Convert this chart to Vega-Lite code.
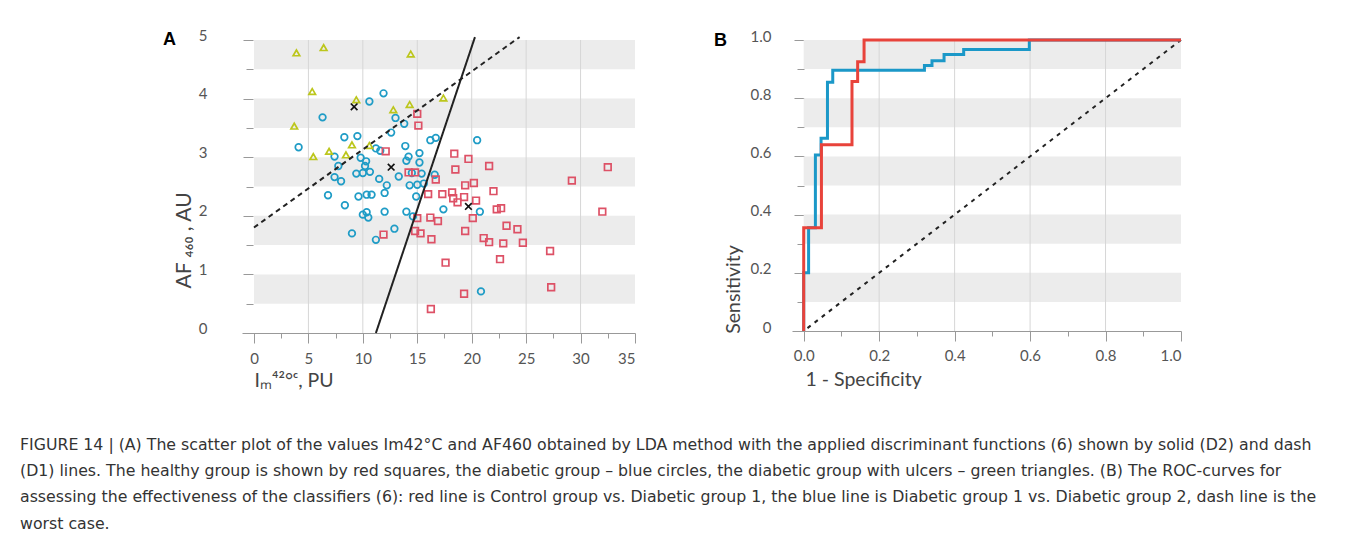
{
  "$schema": "https://vega.github.io/schema/vega-lite/v6.json",
  "padding": {"left": 20, "top": 28, "right": 5, "bottom": 5},
  "background": "white",
  "resolve": {"scale": {"color": "independent", "shape": "independent", "strokeDash": "independent"}},
  "config": {
    "view": {"stroke": null},
    "axis": {
      "labelFont": "Lato", "labelFontSize": 15, "labelColor": "#555",
      "titleFont": "Lato", "titleFontSize": 19.5, "titleColor": "#444", "titleFontWeight": "normal",
      "tickColor": "#999", "domainColor": "#999", "grid": false
    }
  },
  "title": {
    "text": [
      "FIGURE 14 | (A) The scatter plot of the values Im42°C and AF460 obtained by LDA method with the applied discriminant functions (6) shown by solid (D2) and dash",
      "(D1) lines. The healthy group is shown by red squares, the diabetic group – blue circles, the diabetic group with ulcers – green triangles. (B) The ROC-curves for",
      "assessing the effectiveness of the classifiers (6): red line is Control group vs. Diabetic group 1, the blue line is Diabetic group 1 vs. Diabetic group 2, dash line is the",
      "worst case."
    ],
    "orient": "bottom", "anchor": "start", "frame": "bounds",
    "font": "DejaVu Sans", "fontSize": 15.75, "fontWeight": "normal", "color": "#333",
    "lineHeight": 26.4, "offset": 48, "dx": -143
  },
  "datasets": {
    "bandsA": [{"y0": 0.5, "y1": 1}, {"y0": 1.5, "y1": 2}, {"y0": 2.5, "y1": 3}, {"y0": 3.5, "y1": 4}, {"y0": 4.5, "y1": 5}],
    "gridA": [{"v": 5}, {"v": 10}, {"v": 15}, {"v": 20}, {"v": 25}, {"v": 30}],
    "pts": [
      {"x": 4.1, "y": 3.17, "g": "diabetic"}, {"x": 6.3, "y": 3.68, "g": "diabetic"}, {"x": 8.3, "y": 3.34, "g": "diabetic"},
      {"x": 7.4, "y": 3.01, "g": "diabetic"}, {"x": 7.75, "y": 2.85, "g": "diabetic"}, {"x": 7.4, "y": 2.66, "g": "diabetic"},
      {"x": 8.0, "y": 2.59, "g": "diabetic"}, {"x": 11.9, "y": 4.09, "g": "diabetic"}, {"x": 10.6, "y": 3.95, "g": "diabetic"},
      {"x": 13.0, "y": 3.67, "g": "diabetic"}, {"x": 13.8, "y": 3.57, "g": "diabetic"}, {"x": 12.6, "y": 3.42, "g": "diabetic"},
      {"x": 9.5, "y": 3.36, "g": "diabetic"}, {"x": 16.2, "y": 3.29, "g": "diabetic"}, {"x": 16.7, "y": 3.33, "g": "diabetic"},
      {"x": 20.5, "y": 3.29, "g": "diabetic"}, {"x": 13.9, "y": 3.19, "g": "diabetic"}, {"x": 11.2, "y": 3.15, "g": "diabetic"},
      {"x": 11.6, "y": 3.11, "g": "diabetic"}, {"x": 15.2, "y": 3.07, "g": "diabetic"}, {"x": 14.2, "y": 3.01, "g": "diabetic"},
      {"x": 9.8, "y": 2.99, "g": "diabetic"}, {"x": 10.3, "y": 2.93, "g": "diabetic"}, {"x": 14.0, "y": 2.94, "g": "diabetic"},
      {"x": 15.2, "y": 2.91, "g": "diabetic"}, {"x": 10.2, "y": 2.85, "g": "diabetic"}, {"x": 9.4, "y": 2.72, "g": "diabetic"},
      {"x": 10.0, "y": 2.73, "g": "diabetic"}, {"x": 10.65, "y": 2.75, "g": "diabetic"}, {"x": 11.5, "y": 2.63, "g": "diabetic"},
      {"x": 13.3, "y": 2.67, "g": "diabetic"}, {"x": 15.4, "y": 2.72, "g": "diabetic"}, {"x": 16.6, "y": 2.7, "g": "diabetic"},
      {"x": 12.2, "y": 2.52, "g": "diabetic"}, {"x": 14.3, "y": 2.52, "g": "diabetic"}, {"x": 15.0, "y": 2.53, "g": "diabetic"},
      {"x": 15.6, "y": 2.55, "g": "diabetic"}, {"x": 12.0, "y": 2.39, "g": "diabetic"}, {"x": 14.9, "y": 2.33, "g": "diabetic"},
      {"x": 6.8, "y": 2.35, "g": "diabetic"}, {"x": 8.35, "y": 2.18, "g": "diabetic"}, {"x": 9.6, "y": 2.33, "g": "diabetic"},
      {"x": 10.35, "y": 2.36, "g": "diabetic"}, {"x": 10.8, "y": 2.36, "g": "diabetic"}, {"x": 10.35, "y": 2.06, "g": "diabetic"},
      {"x": 10.0, "y": 2.02, "g": "diabetic"}, {"x": 10.5, "y": 1.97, "g": "diabetic"}, {"x": 12.0, "y": 2.07, "g": "diabetic"},
      {"x": 14.0, "y": 2.07, "g": "diabetic"}, {"x": 14.6, "y": 1.99, "g": "diabetic"}, {"x": 12.9, "y": 1.78, "g": "diabetic"},
      {"x": 9.0, "y": 1.7, "g": "diabetic"}, {"x": 11.2, "y": 1.59, "g": "diabetic"}, {"x": 17.4, "y": 2.11, "g": "diabetic"},
      {"x": 20.75, "y": 2.07, "g": "diabetic"}, {"x": 20.85, "y": 0.71, "g": "diabetic"}, {"x": 14.5, "y": 2.73, "g": "diabetic"},
      {"x": 15.0, "y": 3.74, "g": "healthy"}, {"x": 15.1, "y": 3.54, "g": "healthy"}, {"x": 12.1, "y": 3.1, "g": "healthy"},
      {"x": 14.2, "y": 2.74, "g": "healthy"}, {"x": 14.8, "y": 2.74, "g": "healthy"}, {"x": 16.7, "y": 2.62, "g": "healthy"},
      {"x": 18.4, "y": 3.06, "g": "healthy"}, {"x": 19.7, "y": 2.97, "g": "healthy"}, {"x": 18.5, "y": 2.79, "g": "healthy"},
      {"x": 21.6, "y": 2.85, "g": "healthy"}, {"x": 19.4, "y": 2.52, "g": "healthy"}, {"x": 20.2, "y": 2.56, "g": "healthy"},
      {"x": 32.5, "y": 2.83, "g": "healthy"}, {"x": 29.2, "y": 2.6, "g": "healthy"}, {"x": 32.0, "y": 2.07, "g": "healthy"},
      {"x": 16.0, "y": 2.37, "g": "healthy"}, {"x": 17.3, "y": 2.37, "g": "healthy"}, {"x": 18.2, "y": 2.4, "g": "healthy"},
      {"x": 22.0, "y": 2.42, "g": "healthy"}, {"x": 18.3, "y": 2.3, "g": "healthy"}, {"x": 19.3, "y": 2.32, "g": "healthy"},
      {"x": 18.7, "y": 2.23, "g": "healthy"}, {"x": 20.4, "y": 2.26, "g": "healthy"}, {"x": 22.3, "y": 2.11, "g": "healthy"},
      {"x": 22.7, "y": 2.13, "g": "healthy"}, {"x": 20.1, "y": 1.96, "g": "healthy"}, {"x": 16.2, "y": 1.97, "g": "healthy"},
      {"x": 16.9, "y": 1.91, "g": "healthy"}, {"x": 15.0, "y": 1.96, "g": "healthy"}, {"x": 14.8, "y": 1.74, "g": "healthy"},
      {"x": 15.3, "y": 1.7, "g": "healthy"}, {"x": 16.3, "y": 1.6, "g": "healthy"}, {"x": 19.4, "y": 1.74, "g": "healthy"},
      {"x": 21.1, "y": 1.62, "g": "healthy"}, {"x": 21.6, "y": 1.55, "g": "healthy"}, {"x": 22.9, "y": 1.53, "g": "healthy"},
      {"x": 23.2, "y": 1.83, "g": "healthy"}, {"x": 24.2, "y": 1.77, "g": "healthy"}, {"x": 24.7, "y": 1.54, "g": "healthy"},
      {"x": 27.2, "y": 1.4, "g": "healthy"}, {"x": 22.6, "y": 1.26, "g": "healthy"}, {"x": 17.6, "y": 1.2, "g": "healthy"},
      {"x": 27.3, "y": 0.78, "g": "healthy"}, {"x": 19.3, "y": 0.67, "g": "healthy"}, {"x": 16.25, "y": 0.41, "g": "healthy"},
      {"x": 11.9, "y": 1.68, "g": "healthy"},
      {"x": 3.9, "y": 4.78, "g": "ulcer"}, {"x": 6.4, "y": 4.87, "g": "ulcer"}, {"x": 5.35, "y": 4.12, "g": "ulcer"},
      {"x": 3.7, "y": 3.53, "g": "ulcer"}, {"x": 5.45, "y": 3.01, "g": "ulcer"}, {"x": 6.9, "y": 3.1, "g": "ulcer"},
      {"x": 8.45, "y": 3.04, "g": "ulcer"}, {"x": 14.4, "y": 4.76, "g": "ulcer"}, {"x": 9.4, "y": 3.98, "g": "ulcer"},
      {"x": 12.8, "y": 3.81, "g": "ulcer"}, {"x": 14.3, "y": 3.9, "g": "ulcer"}, {"x": 17.4, "y": 4.01, "g": "ulcer"},
      {"x": 9.0, "y": 3.21, "g": "ulcer"}, {"x": 10.6, "y": 3.2, "g": "ulcer"},
      {"x": 9.2, "y": 3.86, "g": "centroid"}, {"x": 12.6, "y": 2.83, "g": "centroid"}, {"x": 19.7, "y": 2.16, "g": "centroid"}
    ],
    "lda": [
      {"line": "D1", "x": 0, "y": 1.8}, {"line": "D1", "x": 24.4, "y": 5.05},
      {"line": "D2", "x": 11.2, "y": 0}, {"line": "D2", "x": 20.3, "y": 5.05}
    ],
    "bandsB": [{"y0": 0.1, "y1": 0.2}, {"y0": 0.3, "y1": 0.4}, {"y0": 0.5, "y1": 0.6}, {"y0": 0.7, "y1": 0.8}, {"y0": 0.9, "y1": 1.0}],
    "gridB": [{"v": 0.2}, {"v": 0.4}, {"v": 0.6}, {"v": 0.8}],
    "diag": [{"fpr": 0.01, "tpr": 0.01}, {"fpr": 1, "tpr": 1}],
    "roc": [
      {"curve": "blue", "i": 0, "fpr": 0, "tpr": 0}, {"curve": "blue", "i": 1, "fpr": 0, "tpr": 0.2},
      {"curve": "blue", "i": 2, "fpr": 0.013, "tpr": 0.2}, {"curve": "blue", "i": 3, "fpr": 0.013, "tpr": 0.355},
      {"curve": "blue", "i": 4, "fpr": 0.031, "tpr": 0.355}, {"curve": "blue", "i": 5, "fpr": 0.031, "tpr": 0.605},
      {"curve": "blue", "i": 6, "fpr": 0.046, "tpr": 0.605}, {"curve": "blue", "i": 7, "fpr": 0.046, "tpr": 0.662},
      {"curve": "blue", "i": 8, "fpr": 0.063, "tpr": 0.662}, {"curve": "blue", "i": 9, "fpr": 0.063, "tpr": 0.855},
      {"curve": "blue", "i": 10, "fpr": 0.077, "tpr": 0.855}, {"curve": "blue", "i": 11, "fpr": 0.077, "tpr": 0.896},
      {"curve": "blue", "i": 12, "fpr": 0.32, "tpr": 0.896}, {"curve": "blue", "i": 13, "fpr": 0.32, "tpr": 0.912},
      {"curve": "blue", "i": 14, "fpr": 0.34, "tpr": 0.912}, {"curve": "blue", "i": 15, "fpr": 0.34, "tpr": 0.929},
      {"curve": "blue", "i": 16, "fpr": 0.372, "tpr": 0.929}, {"curve": "blue", "i": 17, "fpr": 0.372, "tpr": 0.95},
      {"curve": "blue", "i": 18, "fpr": 0.424, "tpr": 0.95}, {"curve": "blue", "i": 19, "fpr": 0.424, "tpr": 0.967},
      {"curve": "blue", "i": 20, "fpr": 0.598, "tpr": 0.967}, {"curve": "blue", "i": 21, "fpr": 0.598, "tpr": 1.0},
      {"curve": "blue", "i": 22, "fpr": 1.0, "tpr": 1.0},
      {"curve": "red", "i": 0, "fpr": 0, "tpr": 0}, {"curve": "red", "i": 1, "fpr": 0, "tpr": 0.355},
      {"curve": "red", "i": 2, "fpr": 0.047, "tpr": 0.355}, {"curve": "red", "i": 3, "fpr": 0.047, "tpr": 0.64},
      {"curve": "red", "i": 4, "fpr": 0.128, "tpr": 0.64}, {"curve": "red", "i": 5, "fpr": 0.128, "tpr": 0.857},
      {"curve": "red", "i": 6, "fpr": 0.143, "tpr": 0.857}, {"curve": "red", "i": 7, "fpr": 0.143, "tpr": 0.925},
      {"curve": "red", "i": 8, "fpr": 0.16, "tpr": 0.925}, {"curve": "red", "i": 9, "fpr": 0.16, "tpr": 1.0},
      {"curve": "red", "i": 10, "fpr": 1.0, "tpr": 1.0}
    ]
  },
  "spacing": 78,
  "hconcat": [
    {
      "width": 393, "height": 293,
      "title": {"text": "A", "anchor": "start", "frame": "group", "dx": -79, "dy": 35, "offset": 0, "baseline": "alphabetic",
                "font": "Liberation Sans", "fontSize": 18, "fontWeight": "bold", "color": "#000"},
      "resolve": {"scale": {"x": "independent", "y": "independent"}, "axis": {"x": "independent", "y": "independent"}},
      "layer": [
        {
          "data": {"name": "gridA"},
          "mark": {"type": "rule", "opacity": 0},
          "encoding": {
            "x": {"field": "v", "type": "quantitative", "scale": {"domain": [-1.1, 35], "nice": false, "zero": false},
                  "axis": {"values": [2.5, 7.5, 12.5, 17.5, 22.5, 27.5, 32.5], "labels": false, "domain": false,
                           "tickSize": 5, "title": null, "orient": "bottom"}},
            "y": {"datum": 0, "type": "quantitative", "scale": {"domain": [0, 5], "nice": false},
                  "axis": {"values": [0.5, 1.5, 2.5, 3.5, 4.5], "labels": false, "domain": false,
                           "tickSize": 7, "offset": -11, "title": null, "orient": "left"}},
            "y2": {"datum": 5}
          }
        },
        {
          "layer": [
            {
              "data": {"name": "bandsA"},
              "mark": {"type": "rect", "color": "#ececec"},
              "encoding": {
                "x": {"datum": 0, "type": "quantitative", "title": "Iₘ⁴²°ᶜ, PU", "scale": {"domain": [-1.1, 35], "nice": false, "zero": false},
                      "axis": {"values": [0, 5, 10, 15, 20, 25, 30, 35], "format": "d",
                               "tickSize": 10, "labelPadding": 8, "orient": "bottom",
                               "titleX": 12, "titleY": 38, "titleAlign": "left", "titleBaseline": "top", "titleAnchor": "start"}},
                "x2": {"datum": 35},
                "y": {"field": "y0", "type": "quantitative", "title": "AF ₄₆₀ , AU", "scale": {"domain": [0, 5], "nice": false},
                      "axis": {"values": [0, 1, 2, 3, 4, 5], "format": "d", "orient": "left",
                               "domain": false, "offset": -11, "tickSize": 10, "labelPadding": 36, "labelOffset": -5,
                               "titlePadding": 4, "titleY": 200, "titleFontSize": 21}},
                "y2": {"field": "y1"}
              }
            },
            {
              "data": {"name": "gridA"},
              "mark": {"type": "rule", "color": "#d6d6d6", "strokeWidth": 1},
              "encoding": {
                "x": {"field": "v", "type": "quantitative", "title": "Iₘ⁴²°ᶜ, PU"},
                "y": {"datum": 0, "type": "quantitative", "title": "AF ₄₆₀ , AU"},
                "y2": {"datum": 5}
              }
            },
            {
              "data": {"name": "pts"},
              "mark": {"type": "point", "filled": false, "strokeWidth": 1.7, "size": 44, "opacity": 1},
              "encoding": {
                "x": {"field": "x", "type": "quantitative", "title": "Iₘ⁴²°ᶜ, PU"},
                "y": {"field": "y", "type": "quantitative", "title": "AF ₄₆₀ , AU"},
                "shape": {"field": "g", "type": "nominal", "legend": null,
                          "scale": {"domain": ["healthy", "diabetic", "ulcer", "centroid"],
                                    "range": ["square", "circle", "triangle-up", "M-1,-1L1,1M-1,1L1,-1"]}},
                "color": {"field": "g", "type": "nominal", "legend": null,
                          "scale": {"domain": ["healthy", "diabetic", "ulcer", "centroid"],
                                    "range": ["#dd5166", "#1f9cc6", "#bcc61c", "#111111"]}}
              }
            },
            {
              "data": {"name": "lda"},
              "mark": {"type": "line", "color": "#222", "strokeWidth": 2},
              "encoding": {
                "x": {"field": "x", "type": "quantitative", "title": "Iₘ⁴²°ᶜ, PU"},
                "y": {"field": "y", "type": "quantitative", "title": "AF ₄₆₀ , AU"},
                "detail": {"field": "line"},
                "strokeDash": {"field": "line", "type": "nominal", "legend": null,
                               "scale": {"domain": ["D1", "D2"], "range": [[5, 4], [1, 0]]}}
              }
            }
          ]
        }
      ]
    },
    {
      "width": 389, "height": 291,
      "title": {"text": "B", "anchor": "start", "frame": "group", "dx": -78, "dy": 35, "offset": 0, "baseline": "alphabetic",
                "font": "Liberation Sans", "fontSize": 18, "fontWeight": "bold", "color": "#000"},
      "resolve": {"scale": {"x": "independent", "y": "independent"}, "axis": {"x": "independent", "y": "independent"}},
      "layer": [
        {
          "data": {"name": "gridB"},
          "mark": {"type": "rule", "opacity": 0},
          "encoding": {
            "x": {"field": "v", "type": "quantitative", "scale": {"domain": [-0.031, 1], "nice": false, "zero": false},
                  "axis": {"values": [0.1, 0.3, 0.5, 0.7, 0.9], "labels": false, "domain": false,
                           "tickSize": 5, "title": null, "orient": "bottom"}},
            "y": {"datum": 0, "type": "quantitative", "scale": {"domain": [0, 1], "nice": false},
                  "axis": {"values": [0.1, 0.3, 0.5, 0.7, 0.9], "labels": false, "domain": false,
                           "tickSize": 7, "offset": -12, "title": null, "orient": "left"}},
            "y2": {"datum": 1}
          }
        },
        {
          "layer": [
            {
              "data": {"name": "bandsB"},
              "mark": {"type": "rect", "color": "#ececec"},
              "encoding": {
                "x": {"datum": 0, "type": "quantitative", "title": "1 - Specificity", "scale": {"domain": [-0.031, 1], "nice": false, "zero": false},
                      "axis": {"values": [0, 0.2, 0.4, 0.6, 0.8, 1.0], "format": ".1f", "orient": "bottom",
                               "tickSize": 10, "labelPadding": 7,
                               "titleX": 13, "titleY": 39, "titleAlign": "left", "titleBaseline": "top", "titleAnchor": "start"}},
                "x2": {"datum": 1},
                "y": {"field": "y0", "type": "quantitative", "title": "Sensitivity", "scale": {"domain": [0, 1], "nice": false},
                      "axis": {"values": [0, 0.2, 0.4, 0.6, 0.8, 1.0], "orient": "left",
                               "labelExpr": "datum.value == 0 ? '0' : format(datum.value, '.1f')",
                               "domain": false, "offset": -12, "tickSize": 10, "labelPadding": 23, "labelOffset": -4,
                               "titlePadding": 7, "titleY": 249}},
                "y2": {"field": "y1"}
              }
            },
            {
              "data": {"name": "gridB"},
              "mark": {"type": "rule", "color": "#d6d6d6", "strokeWidth": 1},
              "encoding": {
                "x": {"field": "v", "type": "quantitative", "title": "1 - Specificity"},
                "y": {"datum": 0, "type": "quantitative", "title": "Sensitivity"},
                "y2": {"datum": 1}
              }
            },
            {
              "data": {"name": "diag"},
              "mark": {"type": "line", "color": "#222", "strokeWidth": 2, "strokeDash": [4, 5]},
              "encoding": {
                "x": {"field": "fpr", "type": "quantitative", "title": "1 - Specificity"},
                "y": {"field": "tpr", "type": "quantitative", "title": "Sensitivity"}
              }
            },
            {
              "data": {"name": "roc"},
              "mark": {"type": "line", "strokeWidth": 3},
              "encoding": {
                "x": {"field": "fpr", "type": "quantitative", "title": "1 - Specificity"},
                "y": {"field": "tpr", "type": "quantitative", "title": "Sensitivity"},
                "order": {"field": "i", "type": "quantitative"},
                "color": {"field": "curve", "type": "nominal", "legend": null,
                          "scale": {"domain": ["blue", "red"], "range": ["#1b98c8", "#e8433b"]}}
              }
            }
          ]
        }
      ]
    }
  ]
}
